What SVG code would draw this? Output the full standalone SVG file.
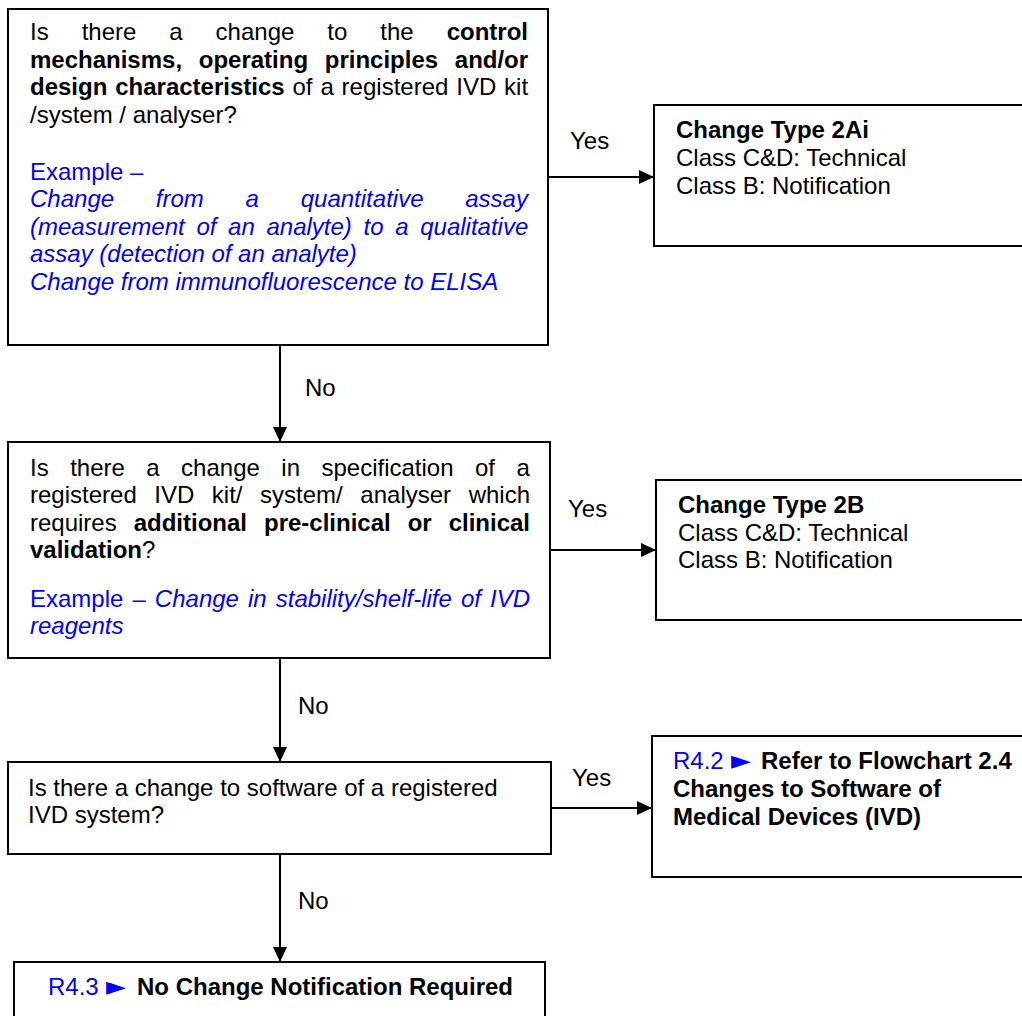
<svg xmlns="http://www.w3.org/2000/svg" width="1022" height="1016" viewBox="0 0 1022 1016">
<defs>
<marker id="arr" markerWidth="15" markerHeight="14" refX="15" refY="7" orient="auto" markerUnits="userSpaceOnUse"><path d="M0,0 L15,7 L0,14 Z" fill="#000"/></marker>
</defs>
<style>
text{font-family:"Liberation Sans",Arial,sans-serif;font-size:24px;fill:#000}
.b{font-weight:bold}
.bl{fill:#0000ff}
.i{font-style:italic}
.box{fill:#fff;stroke:#000;stroke-width:2}
.con{stroke:#000;stroke-width:2;fill:none}
.sym{font-family:"DejaVu Sans",sans-serif;font-size:26px}
</style>
<rect width="1022" height="1016" fill="#fff"/>

<g id="q1">
<rect class="box" x="8" y="9" width="540" height="336"/>
<text x="30" y="40" word-spacing="26.3">Is there a change to the <tspan class="b">control</tspan></text>
<text class="b" x="30" y="68" word-spacing="10">mechanisms, operating principles and/or</text>
<text x="30" y="95" word-spacing="1.2"><tspan class="b">design characteristics</tspan> of a registered IVD kit</text>
<text x="30" y="123">/system / analyser?</text>
<text class="bl" x="30" y="180">Example –</text>
<text class="bl i" x="30" y="207" word-spacing="35.1">Change from a quantitative assay</text>
<text class="bl i" x="30" y="235" word-spacing="5">(measurement of an analyte) to a qualitative</text>
<text class="bl i" x="30" y="262">assay (detection of an analyte)</text>
<text class="bl i" x="30" y="290">Change from immunofluorescence to ELISA</text>
</g>

<g id="r1">
<rect class="box" x="654" y="105" width="380" height="141"/>
<text class="b" x="676" y="138">Change Type 2Ai</text>
<text x="676" y="166">Class C&amp;D: Technical</text>
<text x="676" y="193.5">Class B: Notification</text>
</g>

<g id="q2">
<rect class="box" x="8" y="442" width="542" height="216"/>
<text x="30" y="475.5" word-spacing="14.8">Is there a change in specification of a</text>
<text x="30" y="503" word-spacing="10.9">registered IVD kit/ system/ analyser which</text>
<text x="30" y="530.5" word-spacing="10.3">requires <tspan class="b">additional pre-clinical or clinical</tspan></text>
<text x="30" y="558"><tspan class="b">validation</tspan>?</text>
<text class="bl" x="30" y="607" word-spacing="2.4">Example – <tspan class="i">Change in stability/shelf-life of IVD</tspan></text>
<text class="bl i" x="30" y="634">reagents</text>
</g>

<g id="r2">
<rect class="box" x="656" y="480" width="380" height="140"/>
<text class="b" x="678" y="512.5">Change Type 2B</text>
<text x="678" y="540.5">Class C&amp;D: Technical</text>
<text x="678" y="568">Class B: Notification</text>
</g>

<g id="q3">
<rect class="box" x="8" y="762" width="543" height="92"/>
<text x="28" y="795.5">Is there a change to software of a registered</text>
<text x="28" y="823">IVD system?</text>
</g>

<g id="r3">
<rect class="box" x="652" y="736" width="380" height="141"/>
<text class="bl" x="673" y="769">R4.2</text><text class="sym bl" x="731" y="769">►</text><text class="b" x="761" y="769">Refer to Flowchart 2.4</text>
<text class="b" x="673" y="797">Changes to Software of</text>
<text class="b" x="673" y="825">Medical Devices (IVD)</text>
</g>

<g id="end">
<rect class="box" x="14" y="962" width="531" height="70"/>
<text class="bl" x="48" y="994.5">R4.3</text><text class="sym bl" x="106" y="994.5">►</text><text class="b" x="137" y="994.5">No Change Notification Required</text>
</g>

<g id="connectors">
<line class="con" x1="548" y1="177" x2="654" y2="177" marker-end="url(#arr)"/>
<line class="con" x1="550" y1="550" x2="656" y2="550" marker-end="url(#arr)"/>
<line class="con" x1="551" y1="808" x2="652" y2="808" marker-end="url(#arr)"/>
<line class="con" x1="280" y1="345" x2="280" y2="442" marker-end="url(#arr)"/>
<line class="con" x1="280" y1="658" x2="280" y2="762" marker-end="url(#arr)"/>
<line class="con" x1="280" y1="854" x2="280" y2="962" marker-end="url(#arr)"/>
<text x="570" y="149">Yes</text>
<text x="568" y="517">Yes</text>
<text x="572" y="785.5">Yes</text>
<text x="305" y="396">No</text>
<text x="298" y="713.5">No</text>
<text x="298" y="908.5">No</text>
</g>
</svg>
